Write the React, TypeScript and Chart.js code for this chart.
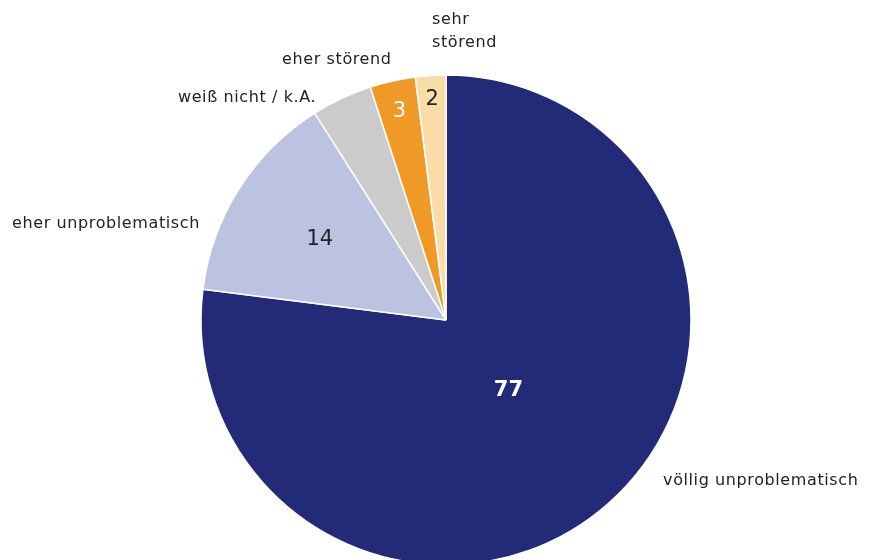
import React, { useEffect, useRef } from "react";
import { Chart, registerables } from "chart.js";

Chart.register(...registerables);

const categories: string[][] = [
  ["völlig unproblematisch"],
  ["eher unproblematisch"],
  ["weiß nicht / k.A."],
  ["eher störend"],
  ["sehr", "störend"],
];
const values: number[] = [77, 14, 4, 3, 2];
const valueLabels: (string | null)[] = ["77", "14", null, "3", "2"];

const colors = ["#232a78", "#bcc3e0", "#cbcbcb", "#ef9a26", "#fadca8"];
const valueColors = ["#ffffff", "#222222", "#222222", "#ffffff", "#222222"];
const valueRadius = [0.385, 0.61, 0.6, 0.87, 0.9];
// outside label anchors in units of the pie radius, relative to centre (left-aligned)
const outsideAnchors = [
  { dx: 0.886, dy: 0.657 },
  { dx: -1.771, dy: -0.392 },
  { dx: -1.094, dy: -0.906 },
  { dx: -0.669, dy: -1.061 },
  { dx: -0.057, dy: -1.224 },
];

const FONT = '"DejaVu Sans", sans-serif';

const labelPlugin = {
  id: "pieLabels",
  afterDatasetsDraw(chart: any) {
    const ctx = chart.ctx as any;
    const meta = chart.getDatasetMeta(0);
    ctx.save();
    meta.data.forEach((arc: any, i: number) => {
      const { x, y, startAngle, endAngle, outerRadius } = arc.getProps(
        ["x", "y", "startAngle", "endAngle", "outerRadius"],
        true
      );
      const mid = (startAngle + endAngle) / 2;
      const lbl = valueLabels[i];
      if (lbl) {
        const r = outerRadius * valueRadius[i];
        ctx.letterSpacing = "0px";
        ctx.font = `${i === 0 ? "bold " : ""}21px ${FONT}`;
        ctx.fillStyle = valueColors[i];
        ctx.textAlign = "center";
        ctx.textBaseline = "middle";
        ctx.fillText(lbl, x + Math.cos(mid) * r, y + Math.sin(mid) * r);
      }
      const a = outsideAnchors[i];
      ctx.font = `16px ${FONT}`;
      ctx.letterSpacing = "0.6px";
      ctx.fillStyle = "#222222";
      ctx.textAlign = "left";
      ctx.textBaseline = "middle";
      categories[i].forEach((line, j) => {
        ctx.fillText(line, x + a.dx * outerRadius, y + a.dy * outerRadius + j * 23);
      });
    });
    ctx.restore();
  },
};

export default function App() {
  const ref = useRef<HTMLCanvasElement | null>(null);
  useEffect(() => {
    if (!ref.current) return;
    const chart = new Chart(ref.current, {
      type: "pie",
      data: {
        labels: categories.map((c) => c.join(" ")),
        datasets: [
          {
            data: values,
            backgroundColor: colors,
            borderColor: "#ffffff",
            borderWidth: 1.5,
          },
        ],
      },
      options: {
        responsive: false,
        animation: false,
        radius: 245,
        layout: { padding: { left: 201, right: 185, top: 75, bottom: 35 } },
        plugins: {
          legend: { display: false },
          tooltip: { enabled: false },
        },
      } as any,
      plugins: [labelPlugin],
    });
    return () => chart.destroy();
  }, []);
  return (
    <div
      style={{
        position: "absolute",
        left: 0,
        top: 0,
        width: 876,
        height: 560,
        overflow: "hidden",
        background: "#ffffff",
      }}
    >
      <canvas ref={ref} width={876} height={600} style={{ display: "block" }} />
    </div>
  );
}
